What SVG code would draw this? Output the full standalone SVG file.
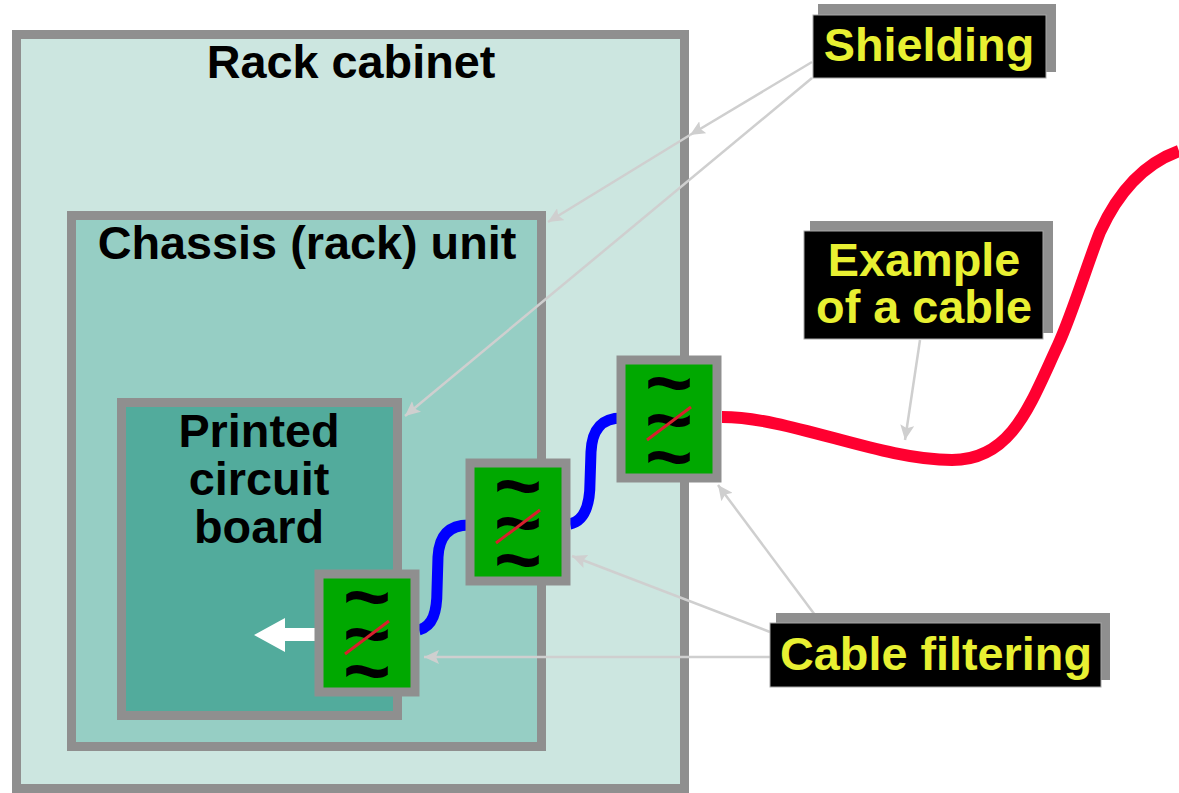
<svg xmlns="http://www.w3.org/2000/svg" width="1179" height="793" viewBox="0 0 1179 793">
<style>
text{font-family:"Liberation Sans",Arial,sans-serif;font-weight:700;text-anchor:middle}
.box{stroke:#8f8f8f;stroke-width:9}
.t{font-size:46.800px;fill:#000}
.y{font-size:46.800px;fill:#e8f032}
.sh{fill:#8f8f8f}
.bk{fill:#000;stroke:#a8a8a8;stroke-width:1}
.f{fill:#00a800;stroke:#8f8f8f;stroke-width:9}
.tl{font-size:82px;fill:#000}
.sl{stroke:#d8202c;stroke-width:3}
.ln{fill:none;stroke:#cfcfcf;stroke-width:2.500}
.cb{fill:none;stroke-width:11}
.rd{fill:none;stroke-width:12}
</style>
<defs>
<marker id="a" markerUnits="userSpaceOnUse" markerWidth="16" markerHeight="14" refX="15" refY="7" orient="auto"><path d="M0 0L15 7L0 14L3 7Z" fill="#cfcfcf"/></marker>
<g id="fl">
<rect class="f" x="-48" y="-59" width="96" height="118"/>
<text class="tl" x="0" y="-8">~</text>
<text class="tl" x="0" y="29">~</text>
<text class="tl" x="0" y="66">~</text>
<line class="sl" x1="-22" y1="21" x2="22" y2="-12"/>
</g>
</defs>
<g id="rack"><rect class="box" x="16.500" y="34.500" width="668" height="754" fill="#cce6e0"/><text class="t" x="351" y="78">Rack cabinet</text></g>
<g id="chassis"><rect class="box" x="71.500" y="215.500" width="470" height="531" fill="#96cec4"/><text class="t" x="307" y="259">Chassis (rack) unit</text></g>
<g id="pcb"><rect class="box" x="121.500" y="402.500" width="276" height="313" fill="#52ab9c"/><text class="t" x="259" y="447">Printed</text><text class="t" x="259" y="495">circuit</text><text class="t" x="259" y="543">board</text></g>
<g id="connectors">
<path class="cb" stroke="#0000ff" d="M419 630C433 626 437 612 437 590L438 557C439 537 448 525 469 525"/>
<path class="cb" stroke="#0000ff" d="M570 524C584 521 590 507 590 482L591 452C592 431 600 418 622 418"/>
<path class="rd" stroke="#ff0030" d="M722 417C790 417 880 460 952 460C1012 460 1030 405 1058 345C1072 315 1088 262 1100 232C1115 199 1140 165 1179 151"/>
<path d="M315 628H285V618L254 635L285 652V641H315Z" fill="#fff"/>
<path class="ln" d="M812 62L690 135" marker-end="url(#a)"/>
<path class="ln" d="M690 135L548 222" marker-end="url(#a)"/>
<path class="ln" d="M812 78L405 416" marker-end="url(#a)"/>
<path class="ln" d="M920 340L905 440" marker-end="url(#a)"/>
<path class="ln" d="M815 615L718 485" marker-end="url(#a)"/>
<path class="ln" d="M770 632L572 556" marker-end="url(#a)"/>
<path class="ln" d="M770 657L424 657" marker-end="url(#a)"/>
</g>
<g id="filter1"><use href="#fl" x="367" y="633"/></g>
<g id="filter2"><use href="#fl" x="518" y="522"/></g>
<g id="filter3"><use href="#fl" x="669" y="419"/></g>
<g id="label-shielding"><rect class="sh" x="818" y="4" width="238" height="68"/><rect class="bk" x="813" y="15" width="233" height="63"/><text class="y" x="929" y="61">Shielding</text></g>
<g id="label-cable"><rect class="sh" x="810" y="221" width="243" height="112"/><rect class="bk" x="804" y="231" width="239" height="108"/><text class="y" x="924" y="276">Example</text><text class="y" x="924" y="323">of a cable</text></g>
<g id="label-filtering"><rect class="sh" x="776" y="613" width="334" height="67"/><rect class="bk" x="770" y="623" width="331" height="64"/><text class="y" x="936" y="670">Cable filtering</text></g>
</svg>
